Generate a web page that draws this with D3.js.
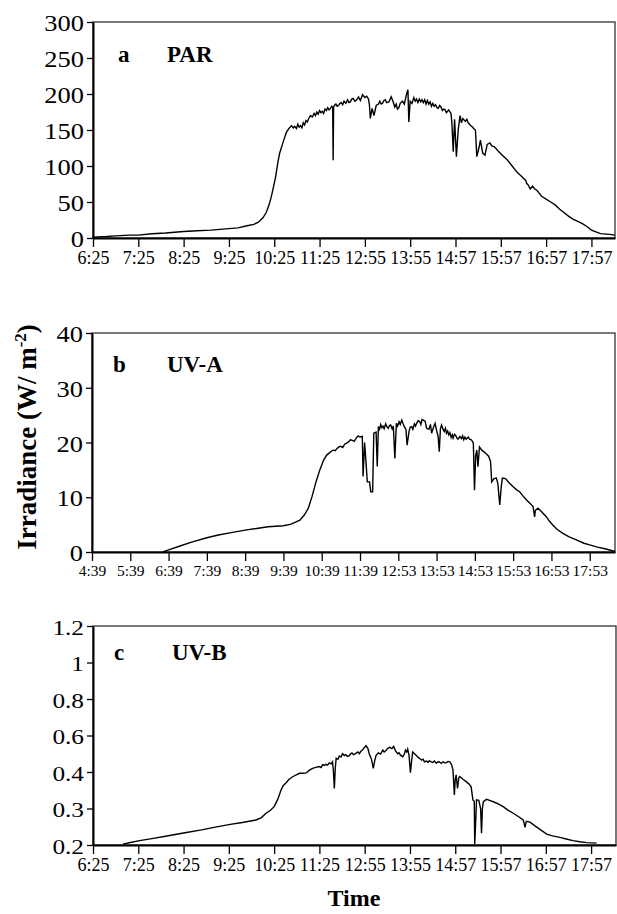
<!DOCTYPE html>
<html><head><meta charset="utf-8">
<script src="https://cdn.jsdelivr.net/npm/d3@7"></script>
<style>
body{margin:0;background:#fff;}
</style></head>
<body><svg id="chart" width="617" height="914" style="font-family:'Liberation Serif','Times New Roman',serif"></svg>
<script>
// ---------- DATA ----------
// x positions are expressed in tick-index units of each panel's category axis
const parTicks = ["6:25","7:25","8:25","9:25","10:25","11:25","12:55","13:55","14:57","15:57","16:57","17:57"];
const uvaTicks = ["4:39","5:39","6:39","7:39","8:39","9:39","10:39","11:39","12:53","13:53","14:53","15:53","16:53","17:53"];
const uvbTicks = ["6:25","7:25","8:25","9:25","10:25","11:25","12:55","13:55","14:57","15:57","16:57","17:57"];

const parYTicks = [0,50,100,150,200,250,300];
const uvaYTicks = [0,10,20,30,40];
const uvbYTicks = [0,0.2,0.4,0.6,0.8,1,1.2];
const uvbYLabels = ["0.2","0.3","0.4","0.6","0.8","1","1.2"];

const parX = [0,0.3,0.5,0.8,1.0,1.3,1.6,2.0,2.3,2.6,3.0,3.2,3.4,3.55,3.65,3.75,3.82,3.88,3.93,3.98,4.03,4.08,4.12,4.17,4.22,4.27,4.32,4.38,4.42,4.45,4.49,4.52,4.55,4.58,4.61,4.64,4.67,4.70,4.73,4.76,4.80,4.84,4.88,4.91,4.94,4.97,5.0,5.03,5.06,5.09,5.12,5.15,5.18,5.21,5.24,5.27,5.29,5.30,5.31,5.34,5.36,5.39,5.42,5.45,5.48,5.51,5.54,5.58,5.62,5.65,5.68,5.71,5.74,5.78,5.82,5.86,5.90,5.95,6.0,6.04,6.08,6.10,6.12,6.16,6.2,6.25,6.3,6.33,6.36,6.39,6.42,6.45,6.48,6.53,6.58,6.62,6.66,6.69,6.72,6.75,6.78,6.83,6.87,6.91,6.93,6.95,6.97,7.0,7.04,7.08,7.11,7.14,7.17,7.2,7.23,7.26,7.29,7.32,7.35,7.38,7.41,7.44,7.47,7.5,7.53,7.56,7.59,7.62,7.65,7.68,7.71,7.74,7.77,7.8,7.85,7.88,7.9,7.92,7.95,7.98,8.02,8.06,8.1,8.13,8.16,8.19,8.22,8.25,8.28,8.31,8.34,8.38,8.40,8.44,8.47,8.52,8.55,8.6,8.65,8.7,8.76,8.8,8.85,8.9,8.95,9.0,9.05,9.1,9.15,9.2,9.25,9.3,9.35,9.4,9.45,9.5,9.55,9.57,9.6,9.65,9.7,9.75,9.8,9.85,9.9,10.0,10.1,10.2,10.3,10.4,10.5,10.6,10.7,10.8,10.9,11.0,11.2,11.4,11.52];
const parY = [1,2,3,4,4,6,7,9,10,11,13,14,17,19,22,28,35,45,56,70,85,105,118,128,138,147,152,156,153,155,152,158,154,156,153,160,157,163,161,166,170,168,173,170,175,172,177,174,176,173,179,177,181,178,180,183,181,108,182,185,186,183,184,187,188,185,190,187,192,188,189,193,194,190,192,196,191,199,195,197,193,185,166,180,170,184,186,190,186,187,191,192,188,189,196,190,182,186,179,181,187,190,186,197,202,206,161,190,187,195,190,193,188,193,189,192,188,192,186,191,186,189,183,187,183,185,181,180,184,182,177,179,178,174,178,175,173,160,120,165,113,150,170,160,166,164,162,165,160,158,156,154,152,150,113,126,136,118,115,130,132,128,127,124,120,117,114,111,108,104,100,96,92,89,86,83,80,76,74,68,72,68,66,62,58,54,50,46,40,35,30,26,23,20,16,11,6,5,4,3,2,1];

const uvaX = [1.85,2.0,2.3,2.6,3.0,3.3,3.6,4.0,4.3,4.6,5.0,5.2,5.43,5.55,5.65,5.75,5.85,5.95,6.05,6.13,6.2,6.25,6.3,6.35,6.4,6.45,6.5,6.55,6.6,6.65,6.7,6.75,6.8,6.85,6.9,6.95,7.0,7.06,7.08,7.12,7.15,7.19,7.25,7.28,7.33,7.36,7.42,7.45,7.48,7.51,7.54,7.57,7.6,7.63,7.67,7.7,7.74,7.77,7.8,7.84,7.87,7.91,7.95,7.98,8.02,8.05,8.09,8.12,8.15,8.2,8.23,8.28,8.31,8.35,8.38,8.42,8.45,8.48,8.52,8.56,8.59,8.62,8.65,8.7,8.74,8.8,8.84,8.87,8.92,8.96,9.0,9.04,9.07,9.1,9.13,9.17,9.2,9.23,9.26,9.29,9.32,9.35,9.38,9.41,9.43,9.47,9.5,9.53,9.56,9.61,9.65,9.68,9.71,9.74,9.77,9.8,9.83,9.86,9.91,9.96,9.99,10.02,10.05,10.08,10.12,10.18,10.24,10.3,10.36,10.41,10.44,10.5,10.56,10.6,10.65,10.69,10.72,10.8,10.9,11.0,11.1,11.17,11.25,11.35,11.45,11.52,11.56,11.58,11.65,11.75,11.87,11.95,12.04,12.15,12.3,12.45,12.65,12.85,13.0,13.2,13.4,13.66];
const uvaY = [0,0.4,1.1,1.8,2.6,3.1,3.5,4.0,4.3,4.6,4.8,5.1,5.8,6.8,8.0,10.2,12.8,15.0,16.8,17.7,18.1,18.4,18.6,18.5,18.9,19.2,19.3,19.1,19.7,19.9,20.1,20.5,20.4,20.2,20.8,21.2,21.0,21.1,13.8,20.0,17.1,12.8,12.8,11.0,11.0,21.7,21.9,15.6,22.9,22.4,23.3,22.7,23.0,22.5,23.4,22.9,22.6,23.1,23.2,22.5,23.0,17.1,23.5,23.0,23.8,23.3,24.1,23.5,23.0,22.4,19.5,22.0,22.8,22.9,22.4,23.4,23.0,23.5,24.0,23.8,23.3,24.2,24.1,23.9,22.6,22.4,23.3,21.7,22.8,23.5,22.2,21.1,18.3,22.5,23.2,22.4,22.0,22.6,21.7,22.1,21.4,21.8,20.9,21.4,20.8,21.5,21.3,20.8,20.6,21.1,20.7,21.2,20.5,21.0,20.6,20.8,21.0,20.6,20.5,19.9,11.3,17.5,18.6,15.6,19.2,18.6,18.3,17.9,17.5,16.5,12.8,13.4,13.5,12.5,8.6,12.0,13.5,13.4,12.6,11.9,11.3,11.0,10.3,9.5,8.8,8.3,6.4,7.6,8.0,7.3,6.4,5.6,4.9,4.1,3.4,2.8,2.2,1.6,1.3,0.9,0.6,0.1];

const uvbX = [0.66,0.8,1.03,1.3,1.6,2.03,2.4,2.7,3.03,3.3,3.6,3.72,3.82,3.92,4.0,4.08,4.15,4.2,4.26,4.33,4.41,4.5,4.56,4.63,4.71,4.78,4.85,4.92,5.0,5.04,5.07,5.11,5.14,5.18,5.22,5.26,5.29,5.31,5.33,5.35,5.37,5.41,5.44,5.48,5.51,5.55,5.58,5.62,5.66,5.69,5.72,5.75,5.78,5.82,5.85,5.88,5.92,5.95,5.98,6.03,6.07,6.1,6.15,6.19,6.22,6.25,6.3,6.35,6.4,6.43,6.46,6.51,6.55,6.6,6.64,6.68,6.73,6.76,6.79,6.84,6.88,6.9,6.93,6.95,6.98,7.01,7.04,7.06,7.1,7.14,7.18,7.21,7.26,7.29,7.32,7.37,7.4,7.43,7.47,7.5,7.54,7.58,7.62,7.65,7.69,7.73,7.77,7.8,7.84,7.88,7.92,7.95,7.98,8.0,8.02,8.05,8.08,8.1,8.17,8.24,8.3,8.35,8.39,8.42,8.43,8.45,8.47,8.52,8.56,8.58,8.6,8.62,8.69,8.76,8.84,8.95,9.06,9.17,9.28,9.4,9.5,9.52,9.54,9.57,9.65,9.76,9.87,10.02,10.15,10.31,10.45,10.6,10.75,10.9,11.12];
const uvbY = [0.005,0.012,0.024,0.035,0.048,0.067,0.083,0.098,0.113,0.123,0.137,0.15,0.174,0.19,0.21,0.25,0.30,0.325,0.34,0.36,0.374,0.385,0.393,0.393,0.395,0.41,0.42,0.425,0.43,0.425,0.44,0.436,0.442,0.438,0.45,0.445,0.456,0.40,0.31,0.42,0.475,0.47,0.488,0.482,0.50,0.49,0.495,0.485,0.49,0.5,0.505,0.495,0.498,0.505,0.51,0.5,0.515,0.52,0.53,0.544,0.53,0.50,0.47,0.42,0.46,0.49,0.505,0.498,0.52,0.51,0.515,0.53,0.535,0.528,0.54,0.515,0.50,0.505,0.492,0.484,0.50,0.52,0.51,0.525,0.49,0.396,0.47,0.51,0.50,0.49,0.48,0.475,0.465,0.47,0.456,0.46,0.452,0.462,0.455,0.452,0.46,0.448,0.456,0.455,0.447,0.456,0.45,0.45,0.458,0.456,0.44,0.41,0.274,0.36,0.384,0.31,0.37,0.375,0.36,0.347,0.335,0.32,0.247,0.24,0.005,0.12,0.247,0.245,0.20,0.064,0.2,0.237,0.25,0.245,0.237,0.225,0.21,0.19,0.174,0.155,0.137,0.12,0.097,0.13,0.125,0.105,0.086,0.06,0.05,0.042,0.033,0.024,0.018,0.013,0.01];

// ---------- DRAW ----------
const svg = d3.select("#chart");
const SERIF = "'Liberation Serif','Times New Roman',serif";
const YSTRETCH = 1.15;

const panels = [
  {letter:"a", name:"PAR", xs:parX, ys:parY, ticks:parTicks, xMax:11.52, yTicks:parYTicks, yLabels:null, yMax:300,
   left:93, right:615, top:22, bottom:238, xFont:18, yFont:23, letterX:118, nameX:167, labelY:62},
  {letter:"b", name:"UV-A", xs:uvaX, ys:uvaY, ticks:uvaTicks, xMax:13.66, yTicks:uvaYTicks, yLabels:null, yMax:40,
   left:92, right:615, top:333, bottom:552, xFont:15.5, yFont:23, letterX:113, nameX:167, labelY:372},
  {letter:"c", name:"UV-B", xs:uvbX, ys:uvbY, ticks:uvbTicks, xMax:11.55, yTicks:uvbYTicks, yLabels:uvbYLabels, yMax:1.2,
   left:93, right:616, top:626, bottom:845, xFont:18, yFont:22, letterX:114, nameX:172, labelY:660}
];

panels.forEach(p => {
  const x = d3.scaleLinear().domain([0, p.xMax]).range([p.left, p.right]);
  const y = d3.scaleLinear().domain([0, p.yMax]).range([p.bottom, p.top]);
  const g = svg.append("g");

  g.append("rect").attr("x", p.left).attr("y", p.top)
    .attr("width", p.right - p.left).attr("height", p.bottom - p.top)
    .attr("fill", "none").attr("stroke", "#333").attr("stroke-width", 1.3);

  const pts = p.xs.map((v, i) => [v, p.ys[i]]);
  g.append("path").datum(pts)
    .attr("d", d3.line().x(d => x(d[0])).y(d => y(d[1])))
    .attr("fill", "none").attr("stroke", "#000").attr("stroke-width", 1.4)
    .attr("stroke-linejoin", "miter");

  const xa = g.append("g").attr("transform", `translate(0,${p.bottom})`)
    .call(d3.axisBottom(x).tickValues(d3.range(p.ticks.length))
      .tickFormat(i => p.ticks[i]).tickSize(9).tickSizeOuter(0).tickPadding(4));
  xa.attr("font-family", null).attr("font-size", null);
  xa.select(".domain").attr("stroke", "#000").attr("stroke-width", 2);
  xa.selectAll(".tick line").attr("stroke", "#000").attr("stroke-width", 1.3);
  xa.selectAll(".tick text").style("font-family", SERIF).style("font-size", p.xFont + "px").attr("fill", "#000");

  const ya = g.append("g").attr("transform", `translate(${p.left},0)`)
    .call(d3.axisLeft(y).tickValues(p.yTicks)
      .tickFormat((v, i) => p.yLabels ? p.yLabels[i] : v).tickSize(6).tickSizeOuter(0).tickPadding(3));
  ya.attr("font-family", null).attr("font-size", null);
  ya.select(".domain").attr("stroke", "#000").attr("stroke-width", 2);
  ya.selectAll(".tick line").attr("stroke", "#000").attr("stroke-width", 1.3);
  ya.selectAll(".tick text").style("font-family", SERIF).style("font-size", p.yFont + "px").attr("fill", "#000")
    .attr("x", -9 / YSTRETCH).attr("dy", "0.38em").attr("transform", `scale(${YSTRETCH},1)`);

  g.append("text").attr("x", p.letterX).attr("y", p.labelY)
    .style("font-family", SERIF).style("font-size", "23px").style("font-weight", "bold").text(p.letter);
  g.append("text").attr("x", p.nameX).attr("y", p.labelY)
    .style("font-family", SERIF).style("font-size", "23px").style("font-weight", "bold").text(p.name);
});

const yt = svg.append("text").attr("transform", "translate(36,437) rotate(-90)")
  .attr("text-anchor", "middle")
  .style("font-family", SERIF).style("font-size", "27px").style("font-weight", "bold");
yt.append("tspan").text("Irradiance (W/ m");
yt.append("tspan").attr("dy", -10).style("font-size", "17px").text("-2");
yt.append("tspan").attr("dy", 10).text(")");

svg.append("text").attr("x", 354).attr("y", 906).attr("text-anchor", "middle")
  .style("font-family", SERIF).style("font-size", "24px").style("font-weight", "bold").text("Time");
</script>
</body></html>
